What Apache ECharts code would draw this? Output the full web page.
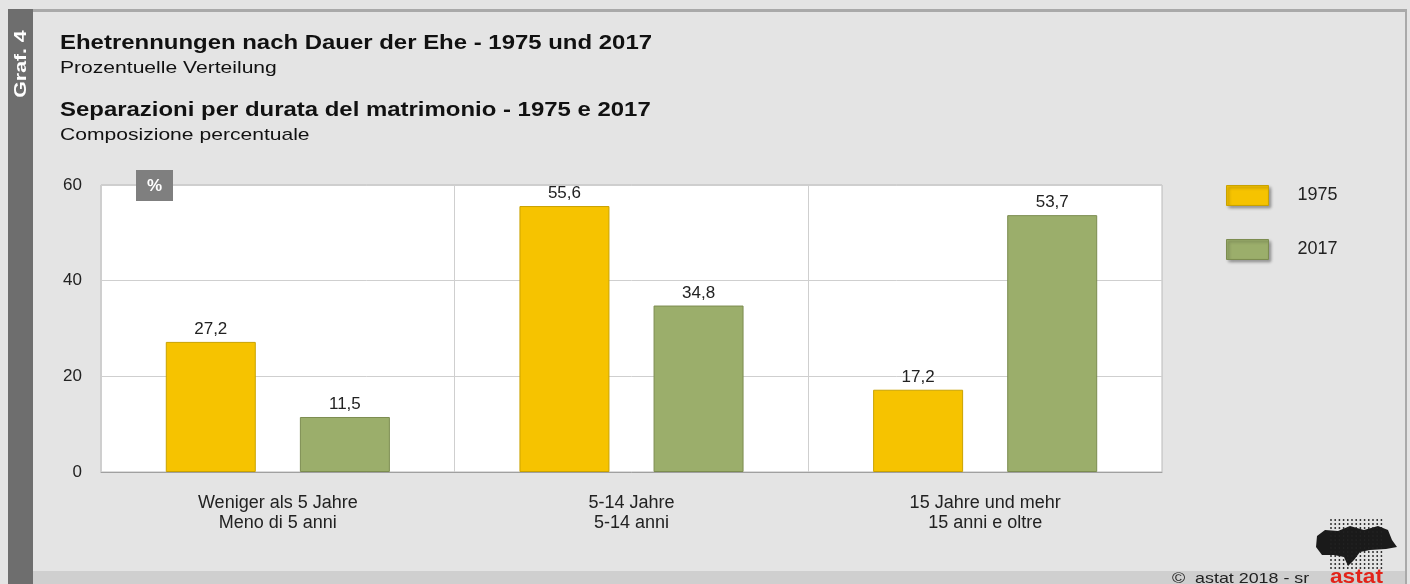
<!DOCTYPE html>
<html>
<head lang="de">
    <meta charset="UTF-8">
    <title>Graf. 4</title>
    <style>
        html,body{margin:0;padding:0;background:#e4e4e4;}
        #chart{width:1410px;height:584px;}
    </style>
</head>
<body>
<div id="chart"></div>
<script src="https://cdn.jsdelivr.net/npm/echarts@6/dist/echarts.min.js"></script>
<script>
    // Daten
    var categories = ['Weniger als 5 Jahre\nMeno di 5 anni', '5-14 Jahre\n5-14 anni', '15 Jahre und mehr\n15 anni e oltre'];
    var years = ['1975', '2017'];
    var values1975 = [27.2, 55.6, 17.2];
    var values2017 = [11.5, 34.8, 53.7];
    var yTicks = [0, 20, 40, 60];

    var font = '"Liberation Sans", Arial, sans-serif';
    var chart = echarts.init(document.getElementById('chart'));

    function fmt(p){
        return String(p.value).replace('.', ',');
    }

    // Logo: Punkte
    var dots = [];
    for (var r = 0; r < 13; r++) {
        for (var c = 0; c < 13; c++) {
            dots.push({
                type: 'circle',
                shape: {cx: 1331 + c * 4.2, cy: 520 + r * 4, r: 0.9},
                style: {fill: '#222'},
                silent: true
            });
        }
    }

    var option = {
        backgroundColor: '#e4e4e4',
        animation: false,
        textStyle: {fontFamily: font},
        grid: {
            left: 101, top: 185, width: 1061, height: 287,
            show: true, backgroundColor: '#fff', borderColor: '#b9b9b9', borderWidth: 1
        },
        legend: {
            data: years,
            orient: 'vertical',
            left: 1226, top: 185, padding: 0,
            itemWidth: 42, itemHeight: 20, itemGap: 33,
            icon: 'rect',
            itemStyle: {borderWidth: 1, shadowBlur: 3, shadowColor: 'rgba(0,0,0,0.35)', shadowOffsetX: 2, shadowOffsetY: 2},
            textStyle: {fontSize: 18, lineHeight: 20, color: '#222', fontFamily: font, padding: [0, 0, 0, 24]}
        },
        xAxis: {
            type: 'category',
            data: categories,
            axisLine: {lineStyle: {color: '#a0a0a0'}},
            axisTick: {show: false},
            splitLine: {show: true, lineStyle: {color: '#cfcfcf'}},
            axisLabel: {fontSize: 18, color: '#222', lineHeight: 20, margin: 21, fontFamily: font}
        },
        yAxis: {
            type: 'value',
            min: yTicks[0], max: yTicks[yTicks.length - 1], interval: 20,
            axisLine: {show: false},
            axisTick: {show: false},
            splitLine: {lineStyle: {color: '#cfcfcf'}},
            axisLabel: {fontSize: 17, color: '#222', margin: 19, fontFamily: font}
        },
        series: [
            {
                name: years[0], type: 'bar', data: values1975,
                barWidth: 90, barGap: '49%',
                itemStyle: {color: '#f6c300', borderColor: '#c9a200', borderWidth: 1},
                label: {show: true, position: 'top', distance: 4, fontSize: 17, color: '#222', formatter: fmt}
            },
            {
                name: years[1], type: 'bar', data: values2017,
                barWidth: 90,
                itemStyle: {color: '#9bae6b', borderColor: '#7c8c50', borderWidth: 1},
                label: {show: true, position: 'top', distance: 4, fontSize: 17, color: '#222', formatter: fmt}
            }
        ],
        graphic: [
            // Rahmen
            {type: 'rect', shape: {x: 8, y: 9, width: 1398, height: 3}, style: {fill: '#a9a9a9'}, silent: true},
            {type: 'rect', shape: {x: 1405, y: 9, width: 2, height: 575}, style: {fill: '#a9a9a9'}, silent: true},
            {type: 'rect', shape: {x: 33, y: 571, width: 1372, height: 13}, style: {fill: '#cfcfcf'}, silent: true},
            {type: 'rect', shape: {x: 8, y: 9, width: 25, height: 575}, style: {fill: '#6e6e6e'}, silent: true},
            {
                type: 'text', x: 21, y: 64, rotation: Math.PI / 2, scaleX: 1.25,
                style: {text: 'Graf. 4', fill: '#fff', font: 'bold 17px ' + font, align: 'center', verticalAlign: 'middle'}
            },
            // Titel
            {type: 'text', x: 60, y: 33, scaleX: 1.14, style: {text: 'Ehetrennungen nach Dauer der Ehe - 1975 und 2017', fill: '#111', font: 'bold 21px ' + font}},
            {type: 'text', x: 60, y: 60, scaleX: 1.24, style: {text: 'Prozentuelle Verteilung', fill: '#111', font: '17px ' + font}},
            {type: 'text', x: 60, y: 100, scaleX: 1.14, style: {text: 'Separazioni per durata del matrimonio - 1975 e 2017', fill: '#111', font: 'bold 21px ' + font}},
            {type: 'text', x: 60, y: 127, scaleX: 1.24, style: {text: 'Composizione percentuale', fill: '#111', font: '17px ' + font}},
            // %-Box
            {type: 'rect', shape: {x: 136, y: 170, width: 37, height: 31}, style: {fill: '#7f7f7f'}, z: 10},
            {type: 'text', x: 154.5, y: 186, z: 11, style: {text: '%', fill: '#fff', font: 'bold 17px ' + font, align: 'center', verticalAlign: 'middle'}},
            // Copyright
            {type: 'text', x: 1172, y: 571, scaleX: 1.19, style: {text: '\u00a9  astat 2018 - sr', fill: '#222', font: '15px ' + font}},
            {type: 'text', x: 1330, y: 567, scaleX: 1.08, style: {text: 'astat', fill: '#e2231a', font: 'bold 21px ' + font}},
            // Logo: Landkarte
            {
                type: 'polygon', silent: true,
                shape: {points: [[1317, 536], [1325, 530], [1338, 531], [1350, 526], [1364, 530], [1378, 526], [1388, 530], [1392, 540], [1397, 547], [1386, 549], [1370, 550], [1360, 552], [1354, 560], [1348, 566], [1344, 557], [1334, 555], [1322, 555], [1316, 547]]},
                style: {fill: '#1a1a1a'}
            }
        ].concat(dots)
    };
    chart.setOption(option);
</script>
</body>
</html>
